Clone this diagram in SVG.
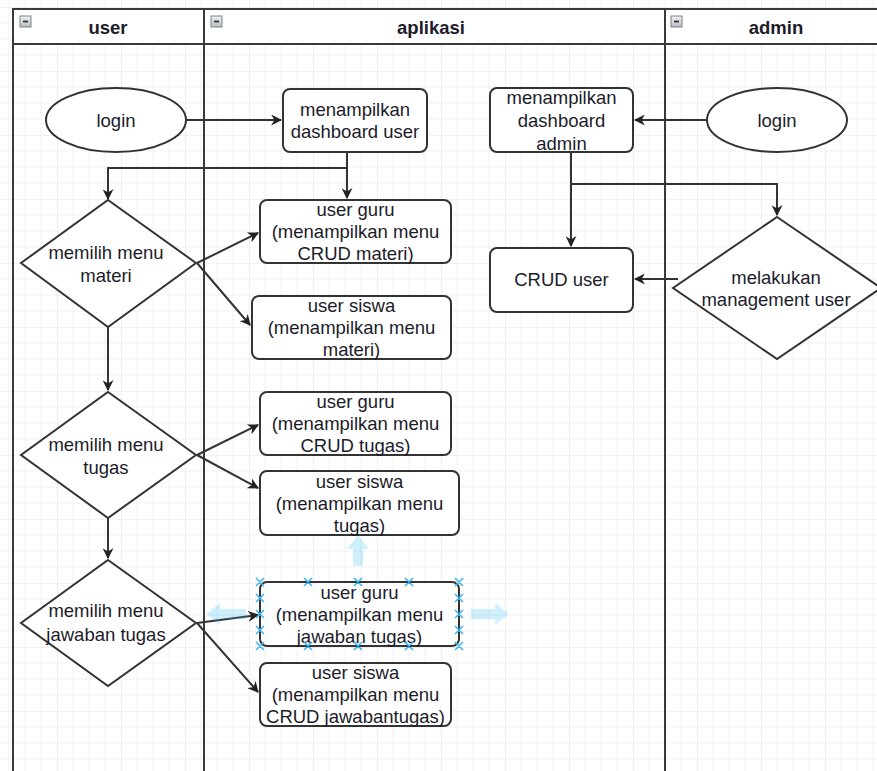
<svg xmlns="http://www.w3.org/2000/svg" width="877" height="771" viewBox="0 0 877 771">
<style>
.t{font-family:"Liberation Sans",Arial,sans-serif;font-size:18.5px;fill:#1c1c2a;text-anchor:middle}
.h{font-family:"Liberation Sans",Arial,sans-serif;font-size:18.5px;font-weight:bold;fill:#1c1c2a;text-anchor:middle}
.box{fill:#fff;stroke:#333;stroke-width:2}
.lane{fill:none;stroke:#3a3a3a;stroke-width:2}
.e{fill:none;stroke:#333;stroke-width:2}
.hd{fill:#fff;stroke:#3a3a3a;stroke-width:2}
.hx{stroke:#3cb8f0;stroke-width:1.6;fill:none}
.hv{fill:#29b6f2;opacity:0.22}
</style>
<defs>
<pattern id="grid" patternUnits="userSpaceOnUse" x="-7" y="7" width="64" height="64">
<path d="M16 0V64M32 0V64M48 0V64M0 16H64M0 32H64M0 48H64" stroke="#f1f1f1" stroke-width="1" fill="none"/>
<path d="M0 0V64M0 0H64" stroke="#e3e3e3" stroke-width="1.2" fill="none"/>
</pattern>
<linearGradient id="ig" x1="0" y1="0" x2="0" y2="1">
<stop offset="0" stop-color="#f2f2f2"/><stop offset="1" stop-color="#b8bcc2"/>
</linearGradient>
<marker id="ar" viewBox="0 0 10 10" refX="9" refY="5" markerWidth="11" markerHeight="11" markerUnits="userSpaceOnUse" orient="auto">
<path d="M0,0 L10,5 L0,10 L3,5 Z" fill="#222"/>
</marker>
<g id="mi"><rect x="0" y="0" width="11" height="11" fill="url(#ig)" stroke="#7d838b" stroke-width="1"/><path d="M3 5.5H8" stroke="#333" stroke-width="1.8"/></g>
</defs>
<rect width="877" height="771" fill="#fff"/>
<rect width="877" height="771" fill="url(#grid)"/>

<g id="pool">
<rect class="hd" x="13" y="9" width="880" height="35"/>
<path class="lane" d="M13 9V771M204 9V771M665 9V771"/>
<use href="#mi" x="20" y="16"/>
<use href="#mi" x="211" y="16"/>
<use href="#mi" x="671" y="16"/>
<text class="h" x="108" y="34">user</text>
<text class="h" x="431" y="34">aplikasi</text>
<text class="h" x="776" y="34">admin</text>
</g>

<g id="connectors">
<path class="e" d="M186 120H281" marker-end="url(#ar)"/>
<path class="e" d="M347 152V198" marker-end="url(#ar)"/>
<path class="e" d="M347 168H108V199" marker-end="url(#ar)"/>
<path class="e" d="M197 263L258 233" marker-end="url(#ar)"/>
<path class="e" d="M197 263L250 325" marker-end="url(#ar)"/>
<path class="e" d="M108 327V390" marker-end="url(#ar)"/>
<path class="e" d="M197 455L258 425" marker-end="url(#ar)"/>
<path class="e" d="M197 455L258 488" marker-end="url(#ar)"/>
<path class="e" d="M108 517V558" marker-end="url(#ar)"/>
<path class="e" d="M197 623L258 615" marker-end="url(#ar)"/>
<path class="e" d="M197 623L258 692" marker-end="url(#ar)"/>
<path class="e" d="M707 120H635" marker-end="url(#ar)"/>
<path class="e" d="M571 152V246" marker-end="url(#ar)"/>
<path class="e" d="M571 184H777V215" marker-end="url(#ar)"/>
<path class="e" d="M678 279H635" marker-end="url(#ar)"/>
</g>

<g id="login_user">
<ellipse class="box" cx="116" cy="120" rx="70" ry="32"/>
<text class="t" x="116" y="126.5">login</text>
</g>
<g id="dashboard_user">
<rect class="box" x="283" y="89" width="144" height="63" rx="7"/>
<text class="t" x="355"><tspan x="355" y="116">menampilkan</tspan><tspan x="355" y="138">dashboard user</tspan></text>
</g>
<g id="pilih_materi">
<polygon class="box" points="108,200 196,263 108,327 21,263"/>
<text class="t"><tspan x="106" y="259">memilih menu</tspan><tspan x="106" y="282">materi</tspan></text>
</g>
<g id="guru_materi">
<rect class="box" x="260" y="200" width="191" height="63" rx="7"/>
<text class="t"><tspan x="355.5" y="216">user guru</tspan><tspan x="355.5" y="238">(menampilkan menu</tspan><tspan x="355.5" y="260">CRUD materi)</tspan></text>
</g>
<g id="siswa_materi">
<rect class="box" x="252" y="296" width="199" height="63" rx="7"/>
<text class="t"><tspan x="351.5" y="312">user siswa</tspan><tspan x="351.5" y="334">(menampilkan menu</tspan><tspan x="351.5" y="356">materi)</tspan></text>
</g>
<g id="pilih_tugas">
<polygon class="box" points="108,392 196,455 108,518 21,455"/>
<text class="t"><tspan x="106" y="450.5">memilih menu</tspan><tspan x="106" y="474">tugas</tspan></text>
</g>
<g id="guru_tugas">
<rect class="box" x="260" y="392" width="191" height="63" rx="7"/>
<text class="t"><tspan x="355.5" y="408">user guru</tspan><tspan x="355.5" y="430">(menampilkan menu</tspan><tspan x="355.5" y="452">CRUD tugas)</tspan></text>
</g>
<g id="siswa_tugas">
<rect class="box" x="260" y="471" width="199" height="64" rx="7"/>
<text class="t"><tspan x="359.5" y="487.5">user siswa</tspan><tspan x="359.5" y="509.5">(menampilkan menu</tspan><tspan x="359.5" y="531.5">tugas)</tspan></text>
</g>
<g id="pilih_jawaban">
<polygon class="box" points="108,560 196,623 108,686 21,623"/>
<text class="t"><tspan x="106" y="617">memilih menu</tspan><tspan x="106" y="641">jawaban tugas</tspan></text>
</g>
<g id="guru_jawaban">
<rect class="box" x="260" y="582" width="199" height="64" rx="7"/>
<text class="t"><tspan x="359.5" y="598.5">user guru</tspan><tspan x="359.5" y="620.5">(menampilkan menu</tspan><tspan x="359.5" y="642.5">jawaban tugas)</tspan></text>
</g>
<g id="siswa_jawaban">
<rect class="box" x="260" y="663" width="191" height="63" rx="7"/>
<text class="t"><tspan x="355.5" y="679">user siswa</tspan><tspan x="355.5" y="701">(menampilkan menu</tspan><tspan x="355.5" y="723">CRUD jawabantugas)</tspan></text>
</g>
<g id="dashboard_admin">
<rect class="box" x="490" y="88" width="143" height="64" rx="7"/>
<text class="t"><tspan x="561.5" y="104">menampilkan</tspan><tspan x="561.5" y="127">dashboard</tspan><tspan x="561.5" y="149.5">admin</tspan></text>
</g>
<g id="crud_user">
<rect class="box" x="490" y="248" width="143" height="64" rx="7"/>
<text class="t" x="561.5" y="286">CRUD user</text>
</g>
<g id="login_admin">
<ellipse class="box" cx="777" cy="120" rx="70" ry="32"/>
<text class="t" x="777" y="126.5">login</text>
</g>
<g id="management_user">
<polygon class="box" points="777,217 881,288 777,359 673,288"/>
<text class="t"><tspan x="776" y="283.5">melakukan</tspan><tspan x="776" y="305.5">management user</tspan></text>
</g>

<g id="selection">
<path class="hv" d="M353 566V549H347L358 535L369 549H363V566Z"/>
<path class="hv" d="M246 609H220V603L206 614L220 625V619H246Z"/>
<path class="hv" d="M471 609H495V603L509 614L495 625V619H471Z"/>
<path class="hx" d="M256 578l8 8m0-8l-8 8M304 578l8 8m0-8l-8 8M354 578l8 8m0-8l-8 8M405 578l8 8m0-8l-8 8M455 578l8 8m0-8l-8 8M256 642l8 8m0-8l-8 8M304 642l8 8m0-8l-8 8M354 642l8 8m0-8l-8 8M405 642l8 8m0-8l-8 8M455 642l8 8m0-8l-8 8M256 594l8 8m0-8l-8 8M256 610l8 8m0-8l-8 8M256 626l8 8m0-8l-8 8M455 594l8 8m0-8l-8 8M455 610l8 8m0-8l-8 8M455 626l8 8m0-8l-8 8"/>
</g>
</svg>
